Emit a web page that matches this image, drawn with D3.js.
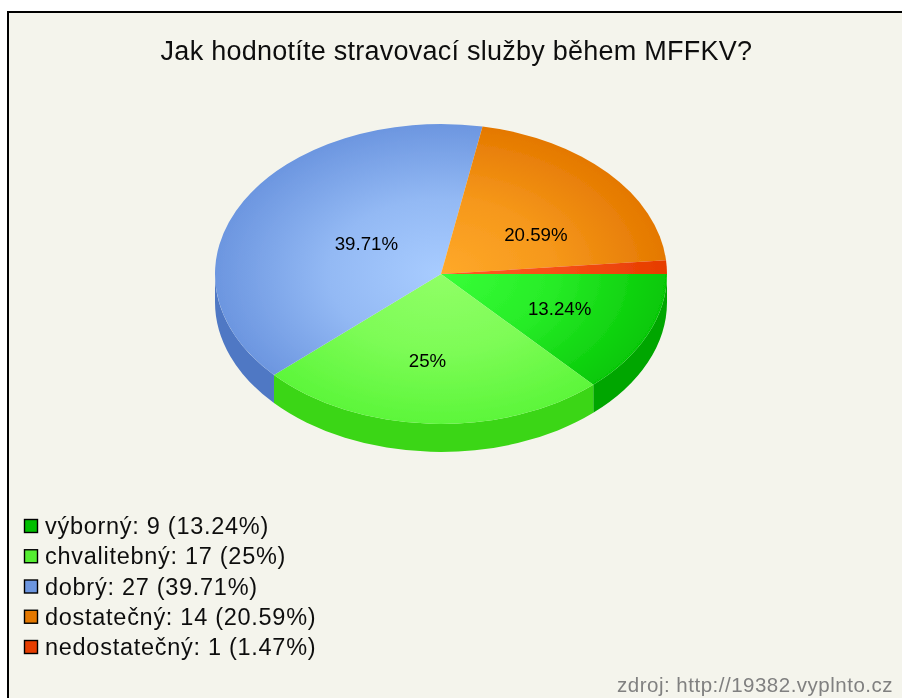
<!DOCTYPE html>
<html>
<head>
<meta charset="utf-8">
<script src="https://cdn.jsdelivr.net/npm/d3@7"></script>
<style>
html, body { margin: 0; padding: 0; background: #fff; }
svg { display: block; }
text { font-family: "Liberation Sans", Arial, sans-serif; }
</style>
</head>
<body>
<div id="chart"></div>
<script>
var categories = ["výborný", "chvalitebný", "dobrý", "dostatečný", "nedostatečný"];
var counts = [9, 17, 27, 14, 1];
var percents = ["13.24%", "25%", "39.71%", "20.59%", "1.47%"];

// colours per slice: legend box, rim of the top, middle of the top, side wall
var legendColors = ["#00bf00", "#55ee33", "#6c96e0", "#e47800", "#e63c00"];
var edgeColors = ["#06c806", "#5cf63a", "#6c96e0", "#e47800", "#e63c00"];
var midColors = ["#38ff38", "#90ff66", "#a8ccff", "#ffa92a", "#ff5c22"];
var sideColors = ["#00a600", "#3ad614", "#4f78c4", "#c96a00", "#c93400"];

// label spots as a fraction of the pie radius
var labelSpots = [[0.525, 0.235], [-0.06, 0.58], [-0.33, -0.2], [0.42, -0.26], null];

var width = 902, height = 698;
var cx = 441, cy = 274, rx = 226, ry = 150, depth = 28;

var svg = d3.select("#chart").append("svg")
    .attr("width", width)
    .attr("height", height);

var defs = svg.append("defs");
defs.append("filter").attr("id", "soft")
    .append("feGaussianBlur").attr("stdDeviation", 0.5);

var root = svg.append("g").attr("filter", "url(#soft)");

// panel with only left and top border, the picture is cut off on the other sides
root.append("rect")
    .attr("x", 8).attr("y", 12)
    .attr("width", width).attr("height", height)
    .attr("fill", "#f4f4ec")
    .attr("stroke", "#000")
    .attr("stroke-width", 2);

root.append("text")
    .attr("x", 456.5).attr("y", 60)
    .attr("text-anchor", "middle")
    .attr("font-size", 27)
    .attr("letter-spacing", 0.25)
    .attr("fill", "#111")
    .text("Jak hodnotíte stravovací služby během MFFKV?");

// slices, d3 counts from 12 o'clock so start a quarter turn later
var pie = d3.pie().sort(null).startAngle(Math.PI / 2).endAngle(Math.PI * 2.5);
var slices = pie(counts);

var x = d3.scaleLinear().domain([-1, 1]).range([cx - rx, cx + rx]);
var y = d3.scaleLinear().domain([-1, 1]).range([cy - ry, cy + ry]);

function edgePoint(a, drop) {
    return [x(Math.sin(a)), y(-Math.cos(a)) + drop];
}

// side wall, only the front half (d3 angle pi/2 .. 3pi/2) can be seen
root.append("g").selectAll("path")
    .data(slices.filter(function(d) { return d.startAngle < Math.PI * 1.5; }))
    .enter()
    .append("path")
    .attr("fill", function(d) { return sideColors[d.index]; })
    .attr("d", function(d) {
        var a0 = d.startAngle;
        var a1 = Math.min(d.endAngle, Math.PI * 1.5);
        var p0 = edgePoint(a0, 0), p1 = edgePoint(a1, 0);
        var q0 = edgePoint(a0, depth), q1 = edgePoint(a1, depth);
        return "M" + p0 + "A" + rx + "," + ry + " 0 0 1 " + p1 +
            "L" + q1 + "A" + rx + "," + ry + " 0 0 0 " + q0 + "Z";
    });

// top of the pie: draw as a circle and squash it
var arc = d3.arc().innerRadius(0).outerRadius(rx);

categories.forEach(function(c, i) {
    var g = defs.append("radialGradient")
        .attr("id", "slice" + i)
        .attr("gradientUnits", "userSpaceOnUse")
        .attr("cx", 0).attr("cy", 0).attr("r", rx);
    g.append("stop").attr("offset", "0%").attr("stop-color", midColors[i]);
    g.append("stop").attr("offset", "50%").attr("stop-color", d3.interpolateRgb(midColors[i], edgeColors[i])(0.35));
    g.append("stop").attr("offset", "100%").attr("stop-color", edgeColors[i]);
});

root.append("g")
    .attr("transform", "translate(" + cx + "," + cy + ") scale(1," + (ry / rx) + ")")
    .selectAll("path")
    .data(slices)
    .enter()
    .append("path")
    .attr("d", arc)
    .attr("fill", function(d) { return "url(#slice" + d.index + ")"; });

root.append("g").selectAll("text")
    .data(slices.filter(function(d) { return labelSpots[d.index]; }))
    .enter()
    .append("text")
    .attr("x", function(d) { return x(labelSpots[d.index][0]); })
    .attr("y", function(d) { return y(labelSpots[d.index][1]) + 6; })
    .attr("text-anchor", "middle")
    .attr("font-size", 18.7)
    .attr("fill", "#000")
    .text(function(d) { return percents[d.index]; });

// legend
var legendY = d3.scalePoint().domain(categories).range([526, 647]);

var legend = root.append("g").selectAll("g")
    .data(categories)
    .enter()
    .append("g")
    .attr("transform", function(d) { return "translate(0," + legendY(d) + ")"; });

legend.append("rect")
    .attr("x", 24.5).attr("y", -6.5)
    .attr("width", 13).attr("height", 13)
    .attr("fill", function(d, i) { return legendColors[i]; })
    .attr("stroke", "#000")
    .attr("stroke-width", 1.4);

legend.append("text")
    .attr("x", 45).attr("y", 8)
    .attr("font-size", 23.5)
    .attr("letter-spacing", 0.72)
    .attr("fill", "#111")
    .text(function(d, i) { return d + ": " + counts[i] + " (" + percents[i] + ")"; });

root.append("text")
    .attr("x", 893).attr("y", 692)
    .attr("text-anchor", "end")
    .attr("font-size", 20.5)
    .attr("letter-spacing", 0.5)
    .attr("fill", "#808080")
    .text("zdroj: http://19382.vyplnto.cz");
</script>
</body>
</html>
